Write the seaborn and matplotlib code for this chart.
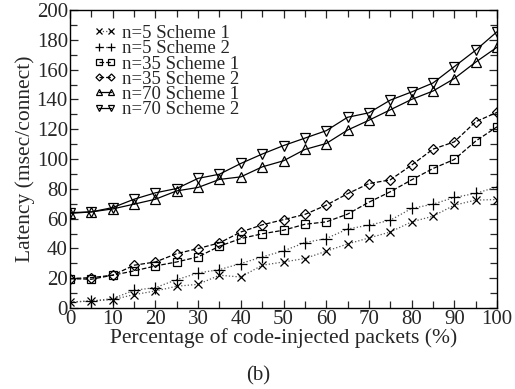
import matplotlib
matplotlib.use("Agg")
import matplotlib.pyplot as plt
import seaborn as sns
import pandas as pd
from matplotlib.ticker import MultipleLocator

pct = list(range(0, 101, 5))
n5_s1 = [4, 4.7, 5.6, 9, 11.4, 14.6, 15.9, 22, 20.8, 28.7, 30.9, 33.2, 38.1, 43, 47, 51, 57.8, 61.6, 69, 72.4, 72.8]
n5_s2 = [4, 4.7, 6.3, 11.9, 13.7, 19, 23.5, 25.8, 29.8, 34.3, 38.3, 43.9, 46.6, 53, 55.6, 58.9, 66.8, 69.7, 74.2, 76.9, 81.3]
n35_s1 = [19.7, 19.3, 22, 24.9, 28.2, 30.9, 34.3, 41.5, 46.6, 49.8, 52.2, 56.2, 57.8, 63, 71, 78, 86, 93.6, 99.7, 112, 121.6]
n35_s2 = [19.7, 20.4, 22, 28.7, 30.9, 36.5, 39.9, 43.7, 51, 55.8, 59.3, 62.8, 69, 76.7, 83.5, 86, 95.9, 106.6, 111.5, 125, 131.3]
n70_s1 = [63.5, 64.5, 66.5, 69.7, 73, 78.6, 80.9, 86.3, 88, 94.7, 98.8, 106.4, 110.4, 119.4, 126, 133, 140, 145.6, 154, 165, 175]
n70_s2 = [64, 64.5, 67.4, 73, 77.3, 80.2, 87, 89.8, 97, 103.3, 109, 114, 119, 128, 131, 139.5, 145, 151, 162, 173, 185.4]

labels = ["n=5 Scheme 1", "n=5 Scheme 2", "n=35 Scheme 1", "n=35 Scheme 2", "n=70 Scheme 1", "n=70 Scheme 2"]
series = [n5_s1, n5_s2, n35_s1, n35_s2, n70_s1, n70_s2]
markers = ["x", "+", "s", "D", "^", "v"]
msizes = [6, 8, 6, 5.5, 7, 7]
lstyles = [":", ":", "--", "--", "-", "-"]
lcolors = ["#555555", "#555555", "black", "black", "black", "black"]

sns.set_style("ticks")
plt.rcParams["font.family"] = ["Liberation Serif", "DejaVu Serif"]

fig = plt.figure(figsize=(5.15, 3.89), dpi=100)
ax = fig.add_axes([70/515, 1-308/389, 427/515, 298/389])

for lab, ys, mk, ms, ls, lc in zip(labels, series, markers, msizes, lstyles, lcolors):
    df = pd.DataFrame({"pct": pct, "lat": ys})
    sns.lineplot(data=df, x="pct", y="lat", ax=ax, label=lab, color=lc,
                 linestyle=ls, linewidth=0.9, marker=mk, markersize=ms,
                 markerfacecolor="none", markeredgecolor="black", markeredgewidth=0.9)

ax.set_xlim(0, 100)
ax.set_ylim(0, 200)
ax.xaxis.set_major_locator(MultipleLocator(10))
ax.xaxis.set_minor_locator(MultipleLocator(5))
ax.yaxis.set_major_locator(MultipleLocator(20))
ax.yaxis.set_minor_locator(MultipleLocator(10))
ax.tick_params(which="both", direction="in", top=True, right=True, labelsize=15, width=0.9, pad=1.5)
ax.tick_params(which="major", length=6)
ax.tick_params(which="minor", length=5)
for s in ax.spines.values():
    s.set_linewidth(1.0)
    s.set_color("black")

ax.set_xlabel("Percentage of code-injected packets (%)", fontsize=15.5, labelpad=-1)
ax.set_ylabel("Latency (msec/connect)", fontsize=15.5, labelpad=1)

leg = ax.legend(loc="upper left", bbox_to_anchor=(0.055, 0.95), frameon=False, fontsize=13.5,
                numpoints=2, markerscale=0.65, handlelength=1.25, handletextpad=0.25,
                labelspacing=-0.1, borderaxespad=0.0, borderpad=0.0)

fig.text(258/515, 1-376/389, "(b)", ha="center", va="center", fontsize=15)

fig.savefig("out.png", dpi=100)
